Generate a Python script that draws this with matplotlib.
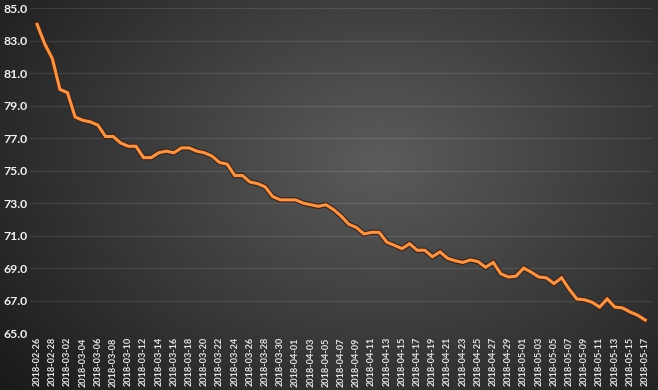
import numpy as np
import pandas as pd
import matplotlib
matplotlib.use("Agg")
import matplotlib.pyplot as plt
import matplotlib.patheffects as pe

# daily values, 2018-02-26 .. 2018-05-17
tarihler = pd.date_range("2018-02-26", "2018-05-17", freq="D")
degerler = [
    84.0, 82.8, 81.9, 80.0, 79.8, 78.3, 78.1, 78.0, 77.8, 77.1,
    77.1, 76.7, 76.5, 76.5, 75.8, 75.8, 76.1, 76.2, 76.1, 76.4,
    76.4, 76.2, 76.1, 75.9, 75.5, 75.4, 74.7, 74.7, 74.3, 74.2,
    74.0, 73.4, 73.2, 73.2, 73.2, 73.0, 72.9, 72.8, 72.9, 72.6,
    72.2, 71.7, 71.5, 71.1, 71.2, 71.2, 70.6, 70.4, 70.2, 70.5,
    70.1, 70.1, 69.7, 70.0, 69.6, 69.45, 69.35, 69.5, 69.4, 69.05,
    69.35, 68.65, 68.45, 68.5, 69.0, 68.75, 68.45, 68.4, 68.05, 68.4,
    67.7, 67.1, 67.05, 66.9, 66.6, 67.1, 66.6, 66.55, 66.3, 66.1,
    65.8,
]
etiketler = [t.strftime("%Y-%m-%d") for t in tarihler]
y_ticks = [65, 67, 69, 71, 73, 75, 77, 79, 81, 83, 85]

fig = plt.figure(figsize=(6.58, 3.9), dpi=100)

# radial gradient background
bg = fig.add_axes([0, 0, 1, 1], zorder=0)
yy, xx = np.mgrid[0:390, 0:658]
r = np.sqrt(((xx - 380) / 420.0) ** 2 + ((yy - 160) / 300.0) ** 2)
shade = np.clip(0.36 - 0.22 * r, 0.10, 0.38)
bg.imshow(np.dstack([shade, shade, shade]), aspect="auto", interpolation="bilinear")
bg.axis("off")

ax = fig.add_axes([0.046, 0.146, 0.945, 0.833], zorder=1)
ax.patch.set_alpha(0)
x = np.arange(len(degerler))
ax.plot(x, degerler, color="#f5964c", linewidth=2.2, solid_joinstyle="miter",
        path_effects=[pe.Stroke(linewidth=4.0, foreground="#4a2410"), pe.Normal()])

ax.set_xlim(-0.9, len(degerler) - 0.1)
ax.set_ylim(65, 85)
ax.set_yticks(y_ticks)
ax.set_yticklabels([f"{v:.1f}" for v in y_ticks])
ax.set_xticks(x[::2])
ax.set_xticklabels(etiketler[::2], rotation=90)

for lbl in ax.get_yticklabels():
    lbl.set_fontfamily("Lato")
    lbl.set_fontweight("bold")
    lbl.set_fontsize(8.8)
    lbl.set_color("#f2f2f2")
for lbl in ax.get_xticklabels():
    lbl.set_fontfamily("Lato")
    lbl.set_fontweight("bold")
    lbl.set_fontsize(6.6)
    lbl.set_color("#e6e6e6")

ax.tick_params(axis="both", length=0)
ax.tick_params(axis="y", pad=2)
ax.tick_params(axis="x", pad=3)
ax.grid(axis="y", color="#ffffff", alpha=0.10, linewidth=0.9)
ax.grid(axis="x", visible=False)
for s in ax.spines.values():
    s.set_visible(False)

fig.savefig("out.png", dpi=100)
